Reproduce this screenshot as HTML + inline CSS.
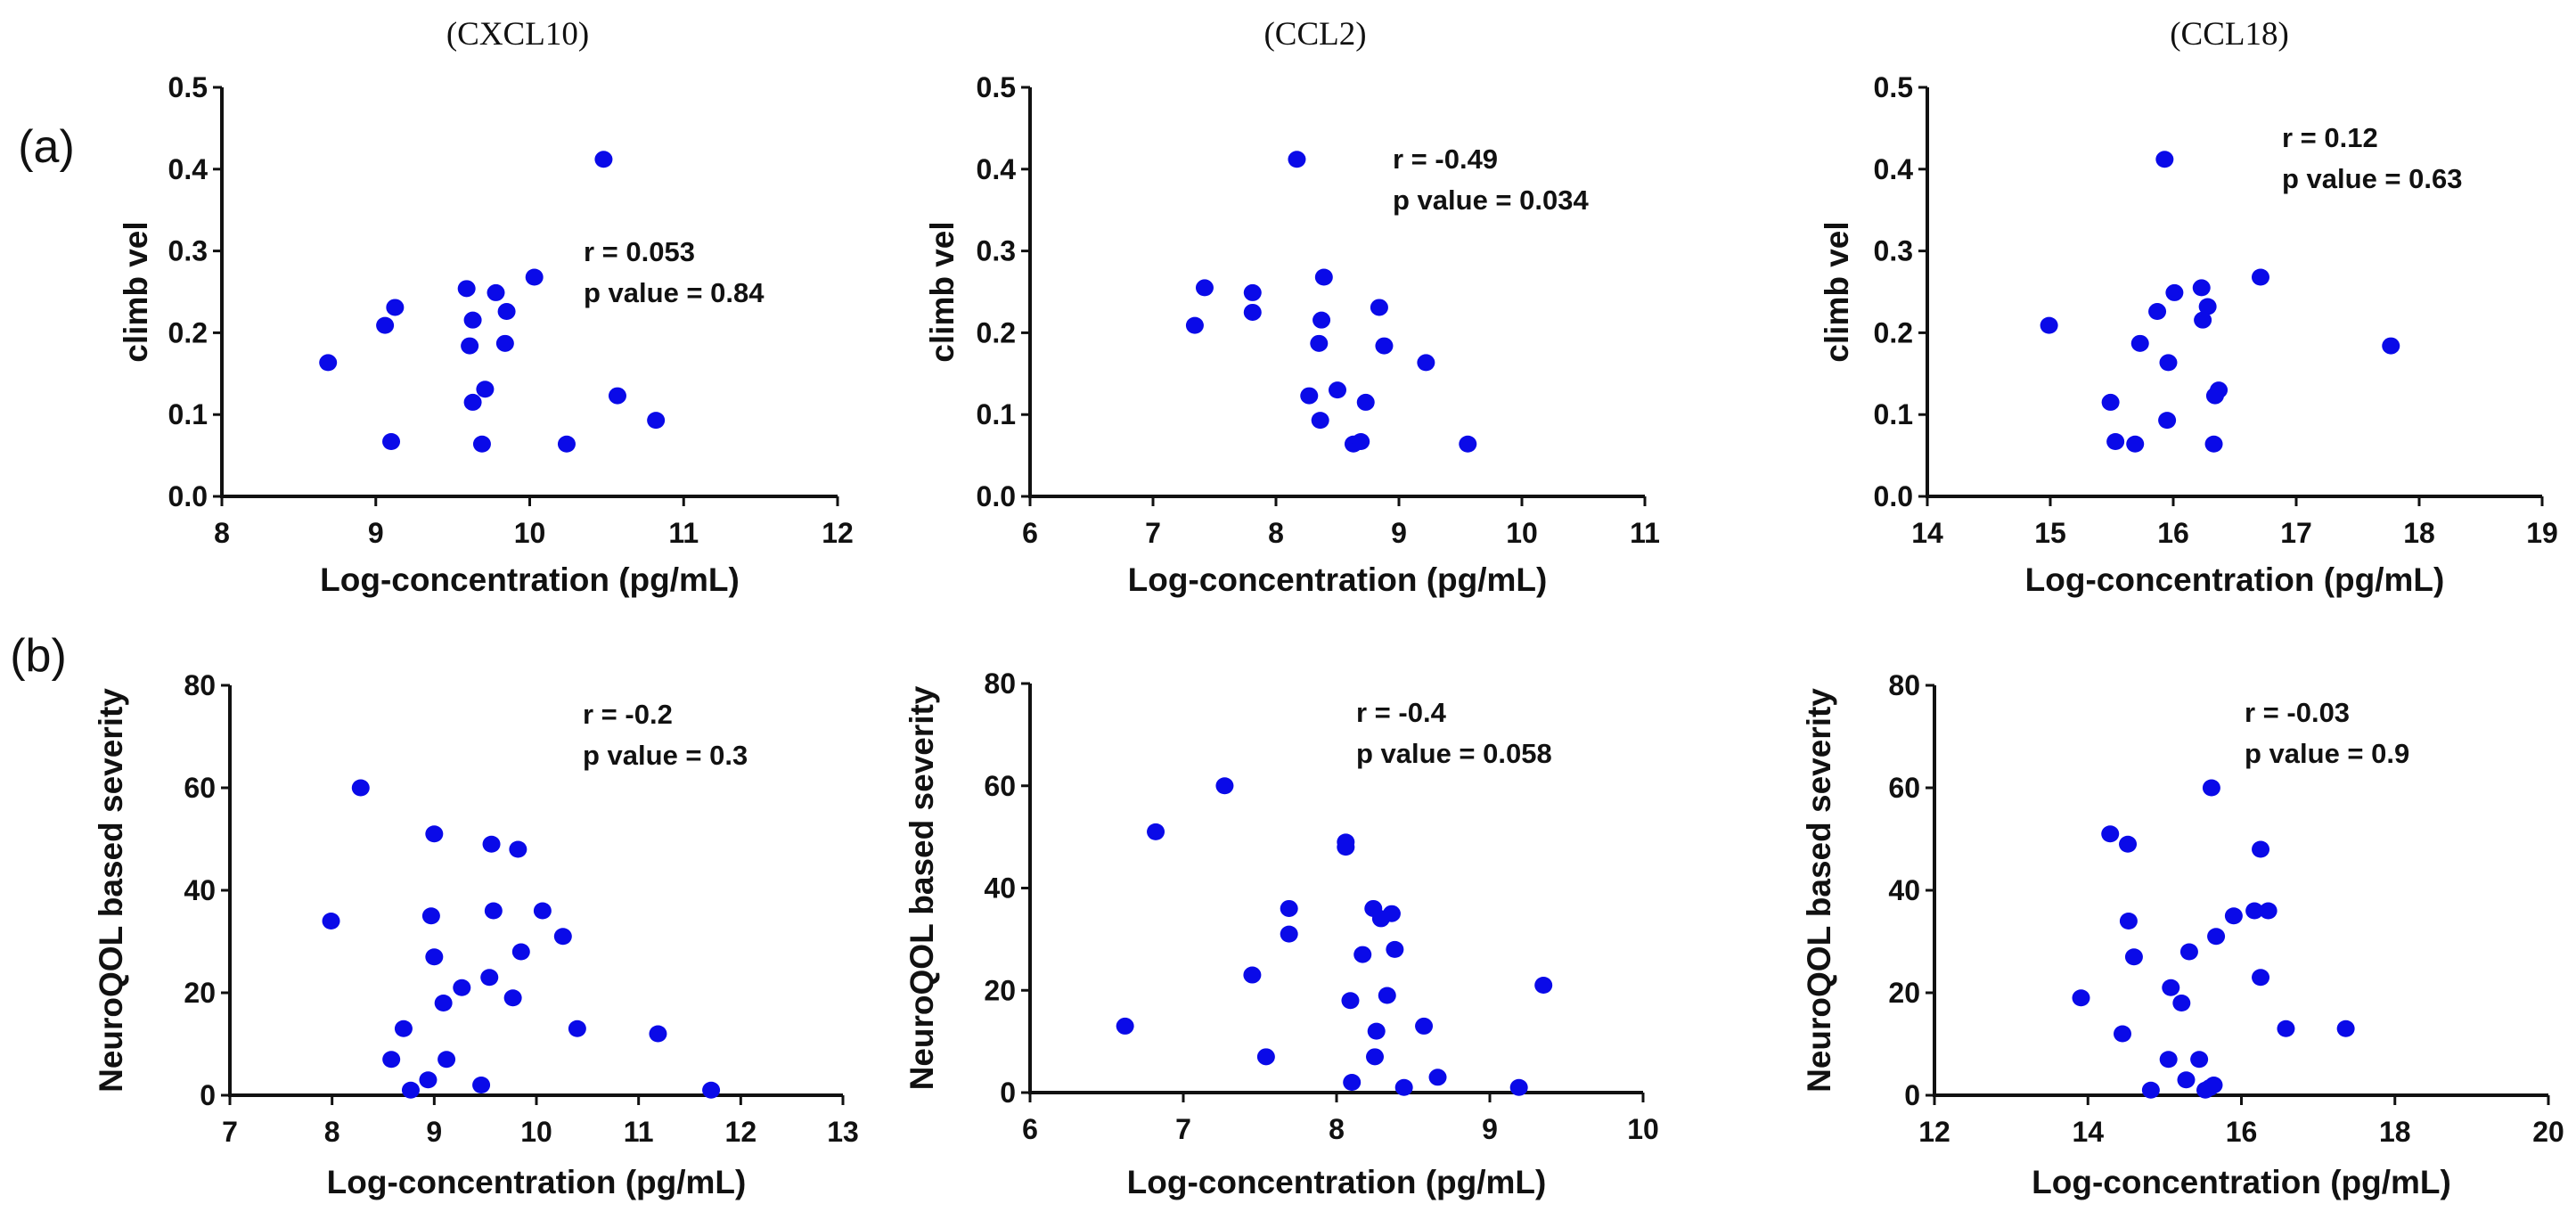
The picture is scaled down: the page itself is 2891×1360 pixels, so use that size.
<!DOCTYPE html>
<html><head><meta charset="utf-8"><style>
html,body{margin:0;padding:0;background:#fff;}
svg{display:block;}
text{font-family:"Liberation Sans",Arial,sans-serif;font-weight:bold;fill:#111;}
.serif{font-family:"Liberation Serif",serif;font-weight:normal;}
</style></head><body>
<svg id="fig" width="2891" height="1360" viewBox="0 0 2891 1360" xmlns="http://www.w3.org/2000/svg"></svg>
<script>
// ---- data ----
const a1X=[8.69,9.06,9.125,9.10,9.59,9.63,9.61,9.71,9.63,9.69,9.78,9.85,9.84,10.03,10.24,10.48,10.57,10.82];
const a1Y=[0.1635,0.209,0.231,0.067,0.254,0.2155,0.184,0.131,0.115,0.064,0.249,0.226,0.187,0.268,0.064,0.412,0.123,0.093];
const a2X=[7.34,7.42,7.81,7.81,8.17,8.39,8.37,8.35,8.27,8.50,8.36,8.73,8.63,8.69,8.84,8.88,9.22,9.56];
const a2Y=[0.209,0.255,0.225,0.249,0.412,0.268,0.2155,0.187,0.123,0.130,0.093,0.115,0.064,0.067,0.231,0.184,0.1635,0.064];
const a3X=[14.99,15.49,15.53,15.69,15.73,15.87,15.93,15.96,15.95,16.01,16.23,16.28,16.24,16.34,16.37,16.33,16.71,17.77];
const a3Y=[0.209,0.115,0.067,0.064,0.187,0.226,0.412,0.1635,0.093,0.249,0.255,0.232,0.2155,0.123,0.130,0.064,0.268,0.184];
const b1X=[7.99,8.28,8.58,8.70,8.77,8.94,9.0,8.97,9.0,9.09,9.12,9.27,9.46,9.54,9.56,9.58,9.77,9.82,9.85,10.06,10.26,10.40,11.19,11.71];
const b1Y=[34,60,7,13,1,3,51,35,27,18,7,21,2,23,49,36,19,48,28,36,31,13,12,1];
const b2X=[6.62,6.82,7.27,7.45,7.54,7.69,7.69,8.06,8.06,8.09,8.10,8.17,8.24,8.29,8.36,8.38,8.33,8.26,8.25,8.44,8.57,8.66,9.19,9.35];
const b2Y=[13,51,60,23,7,36,31,49,48,18,2,27,36,34,35,28,19,12,7,1,13,3,1,21];
const b3X=[13.91,14.29,14.52,14.53,14.60,14.45,14.82,15.05,15.08,15.22,15.28,15.32,15.45,15.53,15.59,15.64,15.61,15.67,15.90,16.17,16.35,16.25,16.25,16.58,17.36];
const b3Y=[19,51,49,34,27,12,1,7,21,18,3,28,7,1,1.5,2,60,31,35,36,36,48,23,13,13];
const climbTicks=["0.0","0.1","0.2","0.3","0.4","0.5"];
const neuroTicks=["0","20","40","60","80"];
const a1XTicks=["8","9","10","11","12"];
const a2XTicks=["6","7","8","9","10","11"];
const a3XTicks=["14","15","16","17","18","19"];
const b1XTicks=["7","8","9","10","11","12","13"];
const b2XTicks=["6","7","8","9","10"];
const b3XTicks=["12","14","16","18","20"];
const stats=[["r = 0.053","p value = 0.84"],["r = -0.49","p value = 0.034"],["r = 0.12","p value = 0.63"],["r = -0.2","p value = 0.3"],["r = -0.4","p value = 0.058"],["r = -0.03","p value = 0.9"]];

const NS="http://www.w3.org/2000/svg";
const svg=document.getElementById('fig');
function mk(tag,attrs,parent){const e=document.createElementNS(NS,tag);for(const k in attrs)e.setAttribute(k,attrs[k]);(parent||svg).appendChild(e);return e;}

const panels=[
 {id:'a1',xs:a1X,ys:a1Y,xt:a1XTicks,yt:climbTicks,px0:249,px1:940,py0:557,py1:98,sx:655,sy:293,yl:'climb vel',ylx:153,xlb:663,st:stats[0]},
 {id:'a2',xs:a2X,ys:a2Y,xt:a2XTicks,yt:climbTicks,px0:1156,px1:1846,py0:557,py1:98,sx:1563,sy:189,yl:'climb vel',ylx:1058,xlb:663,st:stats[1]},
 {id:'a3',xs:a3X,ys:a3Y,xt:a3XTicks,yt:climbTicks,px0:2163,px1:2853,py0:557,py1:98,sx:2561,sy:165,yl:'climb vel',ylx:2062,xlb:663,st:stats[2]},
 {id:'b1',xs:b1X,ys:b1Y,xt:b1XTicks,yt:neuroTicks,px0:258,px1:946,py0:1229,py1:769,sx:654,sy:812,yl:'NeuroQOL based severity',ylx:125,xlb:1339,st:stats[3]},
 {id:'b2',xs:b2X,ys:b2Y,xt:b2XTicks,yt:neuroTicks,px0:1156,px1:1844,py0:1226,py1:767,sx:1522,sy:810,yl:'NeuroQOL based severity',ylx:1035,xlb:1339,st:stats[4]},
 {id:'b3',xs:b3X,ys:b3Y,xt:b3XTicks,yt:neuroTicks,px0:2171,px1:2860,py0:1229,py1:769,sx:2519,sy:810,yl:'NeuroQOL based severity',ylx:2042,xlb:1339,st:stats[5]}
];

panels.forEach(p=>{
  const g=mk('g',{});
  
  
  const xmin=+p.xt[0],xmax=+p.xt[p.xt.length-1],ymin=+p.yt[0],ymax=+p.yt[p.yt.length-1];
  const X=v=>p.px0+(v-xmin)/(xmax-xmin)*(p.px1-p.px0);
  const Y=v=>p.py0-(v-ymin)/(ymax-ymin)*(p.py0-p.py1);
  const ax=mk('path',{d:`M${p.px0},${p.py1}V${p.py0}H${p.px1}`,stroke:'#111','stroke-width':4,fill:'none'},g);
  
  
  p.yt.forEach(t=>{
    const y=Y(+t);
    mk('line',{x1:p.px0-10,x2:p.px0,y1:y,y2:y,stroke:'#111','stroke-width':3},g);
    const tx=mk('text',{x:p.px0-16,y:y+11,'text-anchor':'end','font-size':32},g);
    tx.textContent=t;
    
    
  });
  p.xt.forEach(t=>{
    const x=X(+t);
    mk('line',{x1:x,x2:x,y1:p.py0,y2:p.py0+11,stroke:'#111','stroke-width':3},g);
    const tx=mk('text',{x:x,y:p.py0+52,'text-anchor':'middle','font-size':32},g);
    tx.textContent=t;
    
    
  });
  const yc=(p.py0+p.py1)/2;
  const yl=mk('text',{x:p.ylx,y:yc,'text-anchor':'middle','font-size':37,transform:`rotate(-90 ${p.ylx} ${yc})`,dy:12},g);
  yl.textContent=p.yl;
  
  
  const xl=mk('text',{x:(p.px0+p.px1)/2,y:p.xlb,'text-anchor':'middle','font-size':37},g);
  xl.textContent='Log-concentration (pg/mL)';
  
  
  const s1=mk('text',{x:p.sx,y:p.sy,'font-size':31},g);
  s1.textContent=p.st[0];
  
  
  const s2=mk('text',{x:p.sx,y:p.sy+46,'font-size':31},g);
  s2.textContent=p.st[1];
  
  
  p.xs.forEach((v,i)=>{
    const c=mk('ellipse',{cx:X(v),cy:Y(p.ys[i]),rx:10,ry:9.5,fill:'#0a0ae8'},g);
    
    
  });
});

[['(CXCL10)',581],['(CCL2)',1476],['(CCL18)',2502]].forEach(t=>{
  const e=mk('text',{x:t[1],y:50,'text-anchor':'middle','font-size':37,class:'serif'});
  e.textContent=t[0];
  
  
});
[['(a)',52,182],['(b)',43,753]].forEach(t=>{
  const e=mk('text',{x:t[1],y:t[2],'text-anchor':'middle','font-size':52,style:'font-weight:normal'});
  e.textContent=t[0];
  
  
});
</script>
</body></html>
